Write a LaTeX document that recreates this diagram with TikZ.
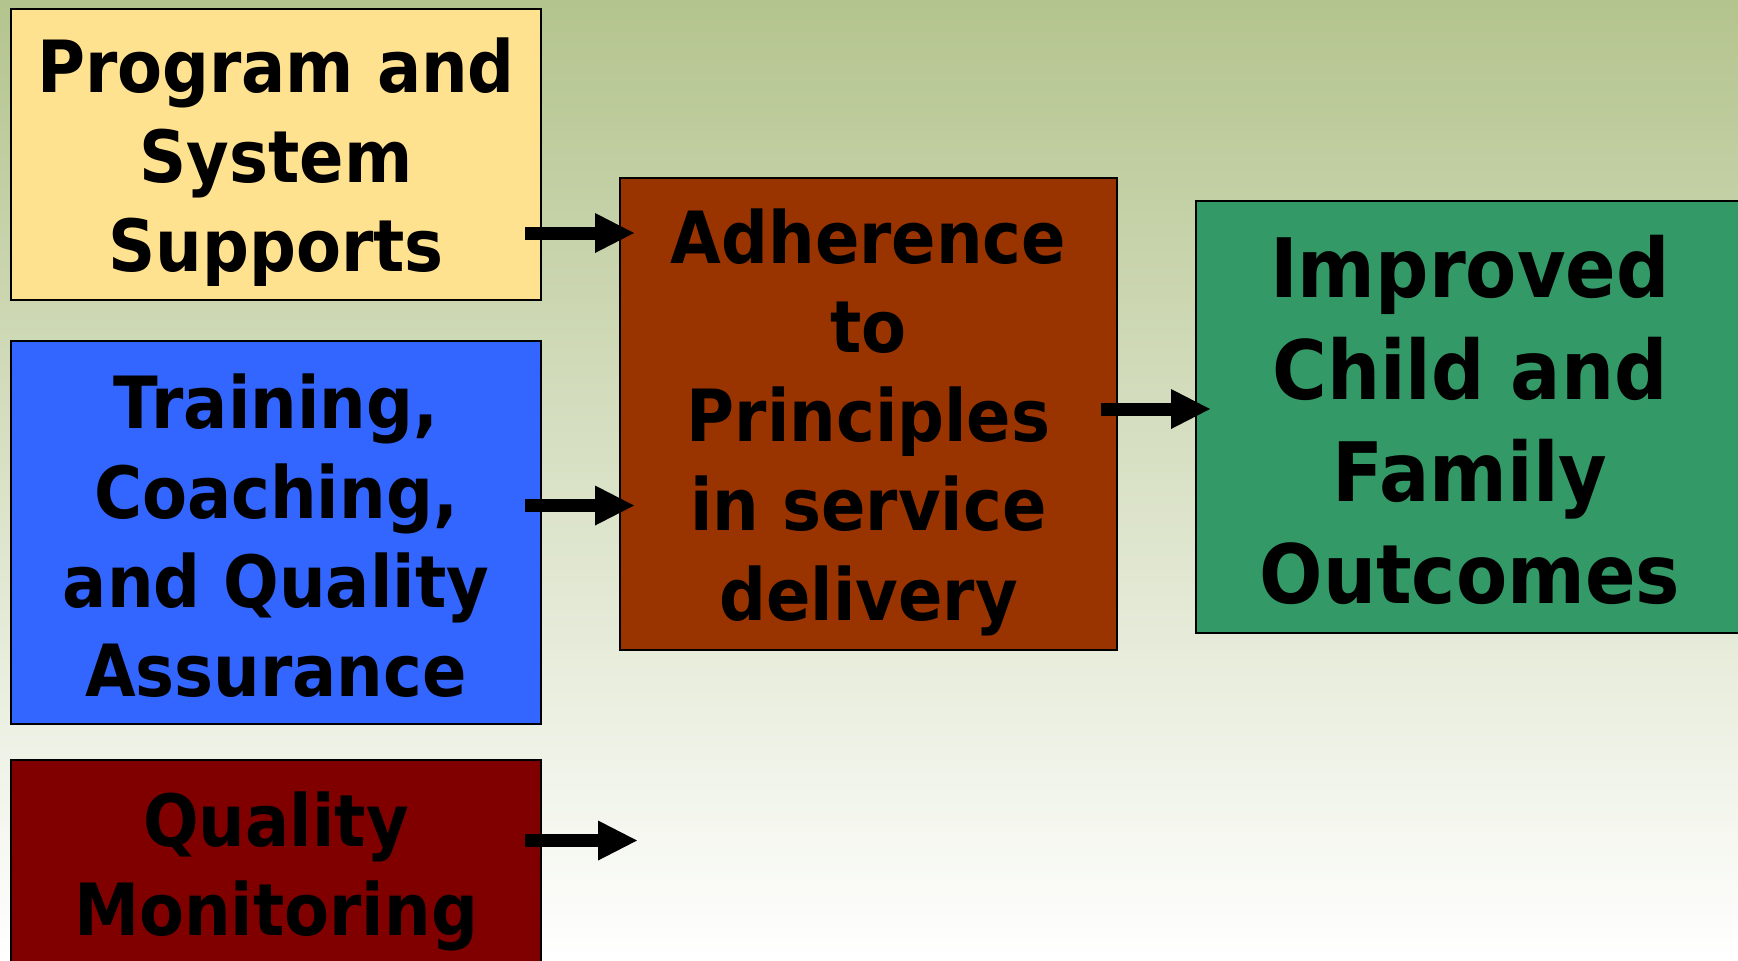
\documentclass[tikz,border=0pt]{standalone}
\usepackage{fontspec}
\setmainfont{DejaVu Sans}[FakeStretch=0.91]
\usetikzlibrary{arrows.meta}

\definecolor{bgtop}{RGB}{180,196,142}
\definecolor{supportfill}{RGB}{255,226,143}
\definecolor{trainfill}{RGB}{51,102,255}
\definecolor{monitorfill}{RGB}{128,0,0}
\definecolor{adherefill}{RGB}{153,51,0}
\definecolor{outcomefill}{RGB}{51,153,102}

\tikzset{
  box/.style={draw=black, line width=1pt, inner sep=0pt},
  txt/.style={align=center, inner sep=0pt,
    font=\bfseries\fontsize{36}{44.6}\selectfont},
  bigtxt/.style={txt, font=\bfseries\fontsize{41}{51}\selectfont},
  flow/.style={line width=6.5pt,
    -{Triangle[length=19.5pt,width=20pt,line width=0pt]}},
}

\begin{document}
\begin{tikzpicture}[x=0.5pt,y=-0.5pt]
  \useasboundingbox (0,0) rectangle (1738,960);
  \clip (0,0) rectangle (1738,960);

  % background gradient
  \shade[top color=bgtop, bottom color=white] (0,0) rectangle (1738,960);

  % left column of inputs
  \node[box, fill=supportfill, minimum width=265pt, minimum height=145.5pt,
    label={[txt, yshift=-3.9pt]center:Program and\\System\\Supports}]
    (sup) at (276,154.5) {};
  \node[box, fill=trainfill, minimum width=265pt, minimum height=191.5pt,
    label={[txt, yshift=-1.7pt]center:Training,\\Coaching,\\and Quality\\Assurance}]
    (tra) at (276,532.5) {};
  \node[box, fill=monitorfill, minimum width=265pt, minimum height=107.5pt,
    label={[txt, yshift=-1.8pt]center:Quality\\Monitoring}]
    (mon) at (276,867.5) {};

  % middle and right boxes
  \node[box, fill=adherefill, minimum width=248.5pt, minimum height=236pt,
    label={[txt, yshift=-4.1pt]center:Adherence\\to\\Principles\\in service\\delivery}]
    (adh) at (868.5,414) {};
  \node[box, fill=outcomefill, minimum width=274pt, minimum height=216pt,
    label={[bigtxt, yshift=-1.7pt]center:Improved\\Child and\\Family\\Outcomes}]
    (out) at (1470,417) {};

  % connector end points
  \coordinate (s1) at ([xshift=-8.5pt,yshift=-39.25pt]sup.east);
  \coordinate (s2) at ([xshift=-8.5pt,yshift=13.5pt]tra.east);
  \coordinate (s3) at ([xshift=-8.5pt,yshift=2.5pt]adh.east);
  \coordinate (s4) at ([xshift=-8.5pt,yshift=13.5pt]mon.east);
  \coordinate (e4) at ([xshift=56pt]s4);

  \draw[flow] (s1) -- ([xshift=7.5pt]adh.west |- s1);
  \draw[flow] (s2) -- ([xshift=7.5pt]adh.west |- s2);
  \draw[flow] (s3) -- ([xshift=7.5pt]out.west |- s3);
  \draw[flow] (s4) -- (e4);
\end{tikzpicture}
\end{document}
